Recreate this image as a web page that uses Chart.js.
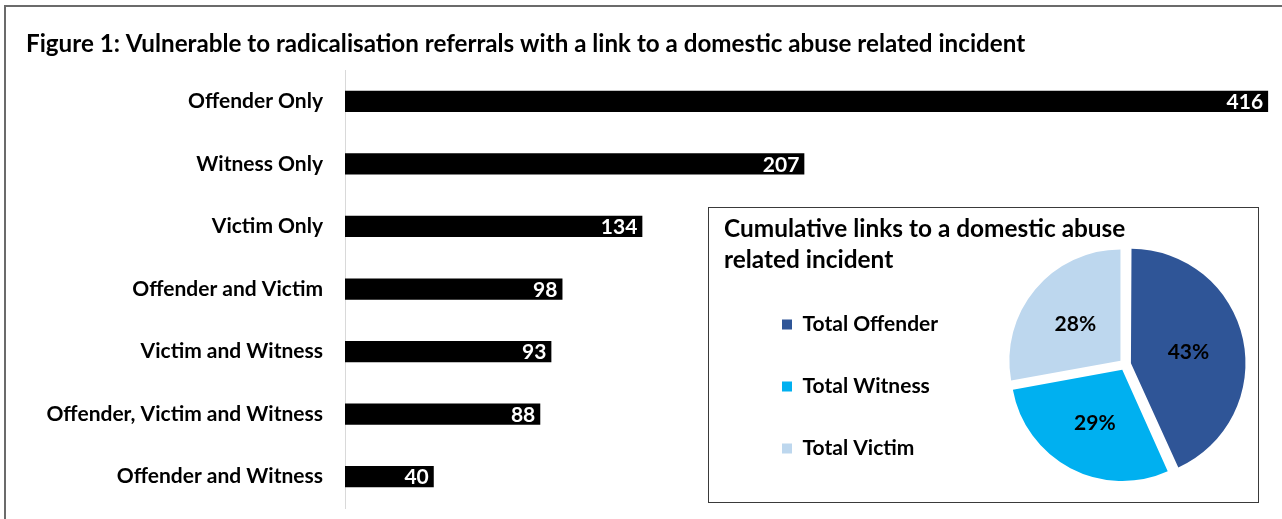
<!DOCTYPE html>
<html>
<head>
<meta charset="utf-8">
<script src="https://cdn.jsdelivr.net/npm/chart.js@4.4.1/dist/chart.umd.min.js"></script>
<style>
  html, body { margin: 0; padding: 0; background: #fff; overflow: hidden; }
  body { width: 1282px; height: 519px; position: relative; font-family: Lato, sans-serif; }
  #frame { position: absolute; left: 4px; top: 5px; width: 1400px; height: 600px; border-left: 2px solid #6b6b6b; border-top: 2px solid #6b6b6b; }
  #bars { position: absolute; left: 0; top: 0; }
  #pie-box { position: absolute; left: 708px; top: 207px; width: 551px; height: 296px; box-sizing: border-box; border: 1px solid #3a3a3a; background: #fff; }
  #pie-title { position: absolute; left: 724px; top: 212px; font: bold 24.4px/31px Lato, sans-serif; color: #000; white-space: nowrap; }
  #pie { position: absolute; left: 709px; top: 208px; }
</style>
</head>
<body>
<div id="frame"></div>
<canvas id="bars" width="1282" height="519"></canvas>
<div id="pie-box"></div>
<div id="pie-title">Cumulative links to a domestic abuse<br>related incident</div>
<canvas id="pie" width="640" height="311"></canvas>
<script>
const categories = [
    'Offender Only',
    'Witness Only',
    'Victim Only',
    'Offender and Victim',
    'Victim and Witness',
    'Offender, Victim and Witness',
    'Offender and Witness'
];
const referrals = [416, 207, 134, 98, 93, 88, 40];

const pieLabels = ['Total Offender', 'Total Witness', 'Total Victim'];
const pieTotals = [642, 428, 413];

const figureTitle = 'Figure 1: Vulnerable to radicalisation referrals with a link to a domestic abuse related incident';

// white value labels inside the end of each bar
const barValues = {
    id: 'barValues',
    afterDatasetsDraw(chart) {
        const ctx = chart.ctx;
        const meta = chart.getDatasetMeta(0);
        ctx.save();
        ctx.font = 'bold 21px Lato';
        ctx.fillStyle = '#fff';
        ctx.textAlign = 'right';
        ctx.textBaseline = 'middle';
        meta.data.forEach((bar, i) => {
            ctx.fillText(String(referrals[i]), bar.x - 5, bar.y + 1);
        });
        ctx.restore();
    }
};

// percentage labels on the slices
const pieValues = {
    id: 'pieValues',
    afterDatasetsDraw(chart) {
        const ctx = chart.ctx;
        const meta = chart.getDatasetMeta(0);
        const total = pieTotals.reduce((a, b) => a + b, 0);
        ctx.save();
        ctx.font = 'bold 21px Lato';
        ctx.fillStyle = '#000';
        ctx.textAlign = 'center';
        ctx.textBaseline = 'middle';
        meta.data.forEach((arc, i) => {
            const mid = (arc.startAngle + arc.endAngle) / 2;
            // arc offset is applied at a quarter of its value by Chart.js
            const d = arc.outerRadius * 0.53 + (arc.options.offset || 0) / 4;
            const pct = Math.round(pieTotals[i] / total * 100) + '%';
            ctx.fillText(pct, arc.x + Math.cos(mid) * d, arc.y + Math.sin(mid) * d + 1);
        });
        ctx.restore();
    }
};

new Chart(document.getElementById('bars'), {
    type: 'bar',
    data: {
        labels: categories,
        datasets: [{
            data: referrals,
            backgroundColor: '#000',
            barPercentage: 0.34,
            categoryPercentage: 1
        }]
    },
    options: {
        indexAxis: 'y',
        responsive: false,
        animation: false,
        layout: { padding: { left: 26, right: 5, top: 0, bottom: 11 } },
        plugins: {
            legend: { display: false },
            tooltip: { enabled: false },
            title: {
                display: true,
                text: figureTitle,
                align: 'start',
                color: '#000',
                font: { family: 'Lato', size: 24.2, weight: 'bold', lineHeight: 1.2 },
                padding: { top: 30, bottom: 11 }
            }
        },
        scales: {
            x: { display: false, min: 0, max: 420 },
            y: {
                grid: { display: false, drawTicks: false },
                border: { display: true, color: '#d9d9d9', width: 1 },
                ticks: {
                    color: '#000',
                    padding: 22,
                    font: { family: 'Lato', size: 21, weight: 'bold' }
                },
                afterFit: scale => {
                    scale.width = 319;
                    scale.paddingTop = 0;
                    scale.paddingBottom = 0;
                }
            }
        }
    },
    plugins: [barValues]
});

new Chart(document.getElementById('pie'), {
    type: 'pie',
    data: {
        labels: pieLabels,
        datasets: [{
            data: pieTotals,
            backgroundColor: ['#2f5597', '#00b0f0', '#bdd7ee'],
            borderWidth: 0,
            offset: 24,
            radius: 111
        }]
    },
    options: {
        responsive: false,
        animation: false,
        layout: { padding: { left: 32, right: 47, top: 15, bottom: 13 } },
        plugins: {
            tooltip: { enabled: false },
            legend: {
                position: 'left',
                align: 'start',
                labels: {
                    color: '#000',
                    font: { family: 'Lato', size: 21, weight: 'bold' },
                    boxWidth: 10,
                    boxHeight: 10,
                    padding: 41
                },
                title: {
                    display: true,
                    text: ' ',
                    font: { size: 10, lineHeight: 1 },
                    padding: { top: 40, bottom: 0 }
                }
            }
        }
    },
    plugins: [pieValues]
});
</script>
</body>
</html>
